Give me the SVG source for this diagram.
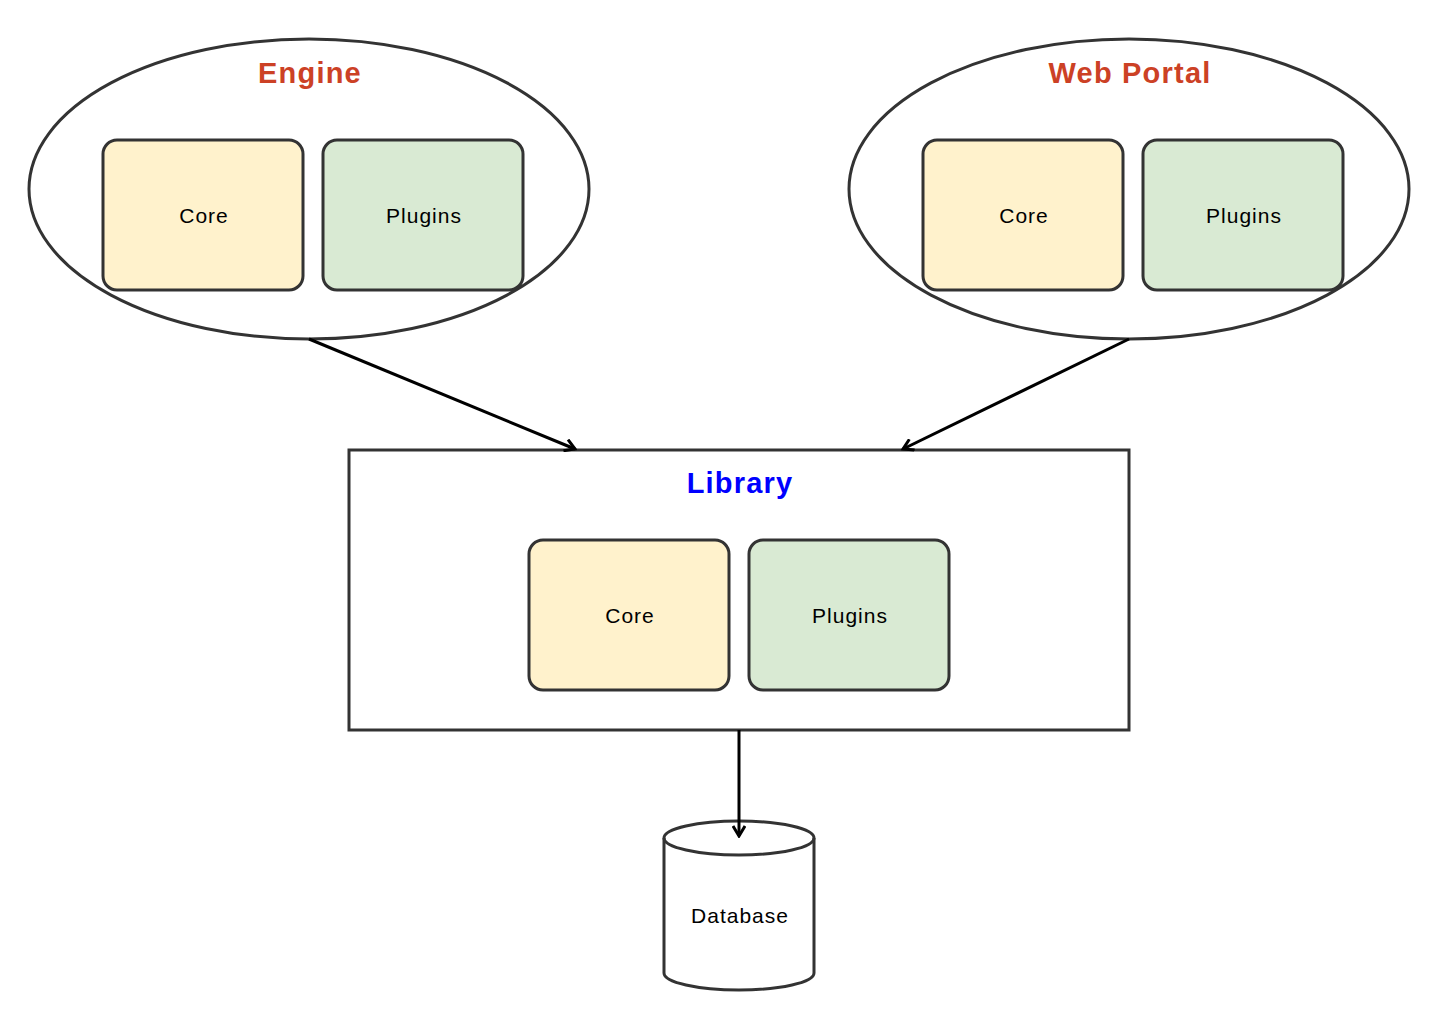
<svg xmlns="http://www.w3.org/2000/svg" width="1445" height="1009" viewBox="0 0 1445 1009">
<style>
.shape{fill:#fff;stroke:#333;stroke-width:3}
.core{fill:#fff2cc;stroke:#333;stroke-width:3}
.plug{fill:#d9ead3;stroke:#333;stroke-width:3}
.lbl{font-family:"Liberation Sans",Arial,sans-serif;font-size:21px;letter-spacing:1px;fill:#000;text-anchor:middle;dominant-baseline:central}
.title{font-family:"Liberation Sans",Arial,sans-serif;font-size:29px;letter-spacing:1.2px;font-weight:bold;text-anchor:middle;dominant-baseline:central}
.edge{fill:none;stroke:#000;stroke-width:3}
</style>
<defs>
<marker id="arr" markerWidth="14" markerHeight="14" refX="12" refY="7" orient="auto" markerUnits="userSpaceOnUse">
<path d="M2,1 L12,7 L2,13" fill="none" stroke="#000" stroke-width="3"/>
</marker>
</defs>
<rect width="1445" height="1009" fill="#fff"/>
<g id="engine">
<ellipse class="shape" cx="309" cy="189" rx="280" ry="150"/>
<text class="title" x="310" y="73" fill="#cc4125">Engine</text>
<rect class="core" x="103" y="140" width="200" height="150" rx="14"/>
<text class="lbl" x="204" y="215">Core</text>
<rect class="plug" x="323" y="140" width="200" height="150" rx="14"/>
<text class="lbl" x="424" y="215">Plugins</text>
</g>
<g id="webportal">
<ellipse class="shape" cx="1129" cy="189" rx="280" ry="150"/>
<text class="title" x="1130" y="73" fill="#cc4125">Web Portal</text>
<rect class="core" x="923" y="140" width="200" height="150" rx="14"/>
<text class="lbl" x="1024" y="215">Core</text>
<rect class="plug" x="1143" y="140" width="200" height="150" rx="14"/>
<text class="lbl" x="1244" y="215">Plugins</text>
</g>
<g id="library">
<rect class="shape" x="349" y="450" width="780" height="280"/>
<text class="title" x="740" y="483" fill="#0000ff">Library</text>
<rect class="core" x="529" y="540" width="200" height="150" rx="14"/>
<text class="lbl" x="630" y="615">Core</text>
<rect class="plug" x="749" y="540" width="200" height="150" rx="14"/>
<text class="lbl" x="850" y="615">Plugins</text>
</g>
<g id="database">
<path class="shape" d="M664,838 A75,17 0 0 1 814,838 L814,973 A75,17 0 0 1 664,973 Z"/>
<path d="M664,838 A75,17 0 0 0 814,838" fill="none" stroke="#333" stroke-width="3"/>
<text class="lbl" x="740" y="915">Database</text>
</g>
<g id="connectors">
<path class="edge" d="M309,339 L575,449" marker-end="url(#arr)"/>
<path class="edge" d="M1129,339 L903,449" marker-end="url(#arr)"/>
<path class="edge" d="M739,730 L739,836" marker-end="url(#arr)"/>
</g>
</svg>
